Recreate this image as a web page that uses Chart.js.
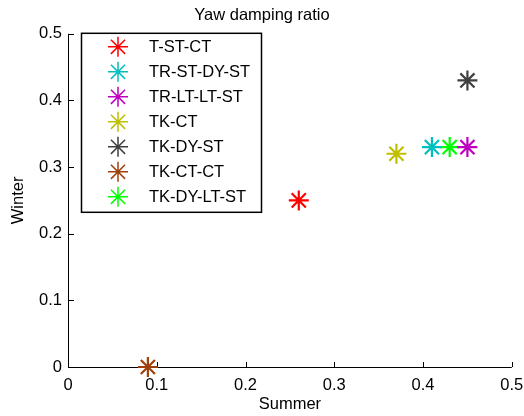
<!DOCTYPE html>
<html>
<head>
<meta charset="utf-8">
<script src="https://cdn.jsdelivr.net/npm/chart.js@4/dist/chart.umd.min.js"></script>
<style>
  body { margin: 0; background: #fff; }
  #wrap { width: 524px; height: 416px; }
</style>
</head>
<body>
<div id="wrap"><canvas id="c" width="524" height="416"></canvas></div>
<script>
// data
const labels = ["T-ST-CT", "TR-ST-DY-ST", "TR-LT-LT-ST", "TK-CT", "TK-DY-ST", "TK-CT-CT", "TK-DY-LT-ST"];
const summer = [0.26, 0.41, 0.45, 0.37, 0.45, 0.09, 0.43];
const winter = [0.25, 0.33, 0.33, 0.32, 0.43, 0.0, 0.33];
const colors = ["#ff0000", "#00bfbf", "#bf00bf", "#bfbf00", "#404040", "#a0400c", "#00ff00"];
const xTicks = [0, 0.1, 0.2, 0.3, 0.4, 0.5];
const yTicks = [0, 0.1, 0.2, 0.3, 0.4, 0.5];

Chart.defaults.font.family = "'Liberation Sans', Arial, sans-serif";
Chart.defaults.color = "#000";

const datasets = labels.map((l, i) => ({
  label: l,
  data: [{ x: summer[i], y: winter[i] }],
  pointStyle: "star",
  pointRadius: 10,
  pointHoverRadius: 10,
  borderWidth: 2.2,
  borderColor: colors[i],
  backgroundColor: colors[i],
  clip: false,
}));

// axes lines + inward ticks (matlab style, no box)
const axesPlugin = {
  id: "axesLines",
  beforeDatasetsDraw(chart) {
    const { ctx, chartArea: a, scales } = chart;
    ctx.save();
    ctx.strokeStyle = "#000";
    ctx.lineWidth = 1;
    ctx.beginPath();
    ctx.moveTo(a.left + 0.5, a.top);
    ctx.lineTo(a.left + 0.5, a.bottom + 0.5);
    ctx.lineTo(a.right, a.bottom + 0.5);
    xTicks.forEach((v) => {
      const px = Math.round(scales.x.getPixelForValue(v)) + 0.5;
      ctx.moveTo(px, a.bottom);
      ctx.lineTo(px, a.bottom - 5);
    });
    yTicks.forEach((v) => {
      const py = Math.round(scales.y.getPixelForValue(v)) + 0.5;
      ctx.moveTo(a.left, py);
      ctx.lineTo(a.left + 6, py);
    });
    ctx.stroke();
    ctx.restore();
  },
};

// boxed legend inside the plot, top-left
const legendPlugin = {
  id: "boxLegend",
  afterDatasetsDraw(chart) {
    const { ctx, chartArea: a } = chart;
    const x0 = a.left + 13, y0 = a.top - 1;
    const w = 180, h = 179;
    ctx.save();
    ctx.fillStyle = "#fff";
    ctx.fillRect(x0, y0, w, h);
    ctx.strokeStyle = "#000";
    ctx.lineWidth = 1.5;
    ctx.strokeRect(x0 + 0.5, y0 + 0.5, w, h);
    ctx.font = "16.5px 'Liberation Sans', Arial, sans-serif";
    ctx.textBaseline = "middle";
    ctx.fillStyle = "#000";
    labels.forEach((l, i) => {
      const y = y0 + 14 + i * 25;
      ctx.strokeStyle = colors[i];
      Chart.helpers.drawPoint(ctx, { pointStyle: "star", radius: 10, borderWidth: 2.2 }, x0 + 37, y);
      ctx.fillText(l, x0 + 68, y + 1);
    });
    ctx.restore();
  },
};

new Chart(document.getElementById("c"), {
  type: "scatter",
  data: { datasets },
  options: {
    responsive: false,
    animation: false,
    layout: { padding: 0 },
    plugins: {
      legend: { display: false },
      tooltip: { enabled: false },
      title: {
        display: true,
        text: "Yaw damping ratio",
        font: { size: 16.5, weight: "normal" },
        padding: { top: 6, bottom: 8 },
      },
    },
    scales: {
      x: {
        type: "linear",
        min: 0,
        max: 0.5,
        afterBuildTicks: (s) => { s.ticks = xTicks.map((v) => ({ value: v })); },
        afterFit: (s) => { s.height = 49; s.paddingLeft = 0; s.paddingRight = 12; },
        grid: { display: false, drawTicks: false },
        border: { display: false },
        ticks: { font: { size: 16.5 }, padding: 9, maxRotation: 0, callback: (v) => String(v) },
        title: { display: true, text: "Summer", font: { size: 16.5 }, padding: { top: 0, bottom: 2 } },
      },
      y: {
        type: "linear",
        min: 0,
        max: 0.5,
        afterBuildTicks: (s) => { s.ticks = yTicks.map((v) => ({ value: v })); },
        afterFit: (s) => { s.width = 68; },
        grid: { display: false, drawTicks: false },
        border: { display: false },
        ticks: { font: { size: 16.5 }, padding: 6, callback: (v) => String(v) },
        title: { display: true, text: "Winter", font: { size: 16.5 }, padding: { top: 9, bottom: 0 } },
      },
    },
  },
  plugins: [axesPlugin, legendPlugin],
});
</script>
</body>
</html>
